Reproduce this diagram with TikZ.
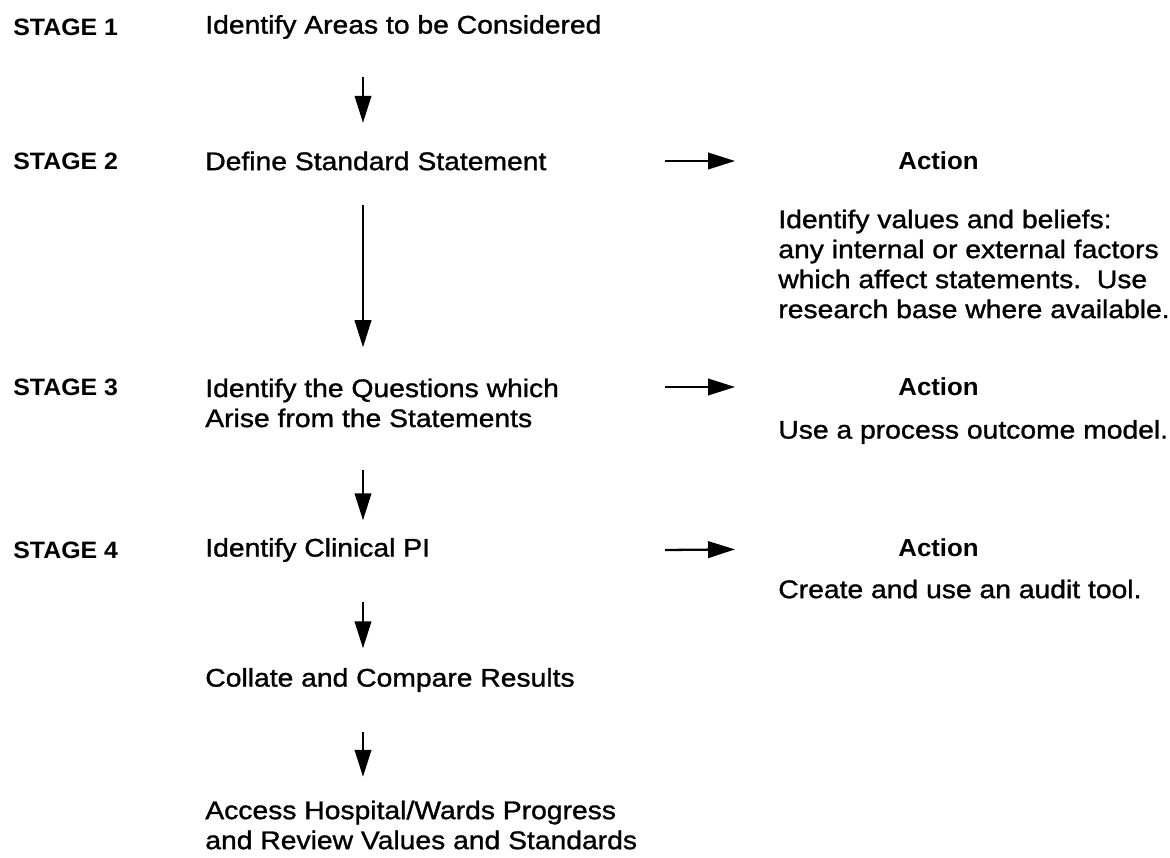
\documentclass[tikz,border=0pt]{standalone}
\usepackage{fontspec}
\setmainfont{Liberation Sans}[FakeStretch=1.11, UprightFeatures={FakeBold=1.2}]
\newfontfamily\labelfont{Liberation Sans}[FakeStretch=1.05]
\usetikzlibrary{positioning, arrows.meta}

\begin{document}
\begin{tikzpicture}
    [
        x=0.02cm, y=-0.02cm,
        stage/.style={font=\labelfont\fontsize{13.5}{17}\selectfont\bfseries, anchor=west, inner sep=0pt},
        steptxt/.style={font=\fontsize{14.5}{17.07}\selectfont, align=left, anchor=west, inner sep=0pt},
        actionhead/.style={font=\labelfont\fontsize{14}{17}\selectfont\bfseries, anchor=west, inner sep=0pt},
        flow/.style={-{Triangle[length=0.54cm, width=0.33cm]}, line width=1.3pt}
    ]
        \useasboundingbox (0,0) rectangle (1170,858);
        % =========================================================================
        % NODES
        % =========================================================================
        % --- Stages and steps ---
        \node [stage] (s1) at (13,27) {STAGE 1};
        \node [steptxt, right=3.84cm of s1.west] (t1) {Identify Areas to be Considered};
        \node [stage] (s2) at (13,161) {STAGE 2};
        \node [steptxt, right=3.84cm of s2.west] (t2) {Define Standard Statement};
        \node [stage] (s3) at (13,387) {STAGE 3};
        \node [steptxt, right=3.84cm of s3.north west, anchor=north west] (t3)
            {Identify the Questions which\\Arise from the Statements};
        \node [stage] (s4) at (13,550) {STAGE 4};
        \node [steptxt, right=3.84cm of s4.west] (t4) {Identify Clinical PI};
        \node [steptxt] (t5) at (205,680) {Collate and Compare Results};
        \node [steptxt] (t6) at (205,825)
            {Access Hospital/Wards Progress\\and Review Values and Standards};
        % --- Actions ---
        \node [actionhead] (act1) at (898,161) {Action};
        \node [steptxt] (n1) at (778,264)
            {Identify values and beliefs:\\any internal or external factors\\which affect statements.\ \ Use\\research base where available.};
        \node [actionhead] (act2) at (898,387) {Action};
        \node [steptxt] (n2) at (778,432) {Use a process outcome model.};
        \node [actionhead] (act3) at (898,548) {Action};
        \node [steptxt] (n3) at (778,589) {Create and use an audit tool.};

        % =========================================================================
        % PATHS
        % =========================================================================
        \coordinate (axis) at (363,0);
        \coordinate (gap) at (665,0);
        % --- VERTICAL ---
        \draw [flow, shorten <=0.75cm, shorten >=0.57cm] (t1.south -| axis) -- (t2.north -| axis);
        \draw [flow, shorten <=0.69cm, shorten >=0.62cm] (t2.south -| axis) -- (t3.north -| axis);
        \draw [flow, shorten <=0.85cm, shorten >=0.35cm] (t3.south -| axis) -- (t4.north -| axis);
        \draw [flow, shorten <=0.79cm, shorten >=0.39cm] (t4.south -| axis) -- (t5.north -| axis);
        \draw [flow, shorten <=0.79cm, shorten >=0.47cm] (t5.south -| axis) -- (t6.north -| axis);
        % --- HORIZONTAL ---
        \draw [flow, shorten >=3.26cm] (s2.east -| gap) -- (act1.west);
        \draw [flow, shorten >=3.26cm] (s3.east -| gap) -- (act2.west);
        \draw [flow, shorten >=3.26cm] (s4.east -| gap) -- (act3.west);

    \end{tikzpicture}
\end{document}
